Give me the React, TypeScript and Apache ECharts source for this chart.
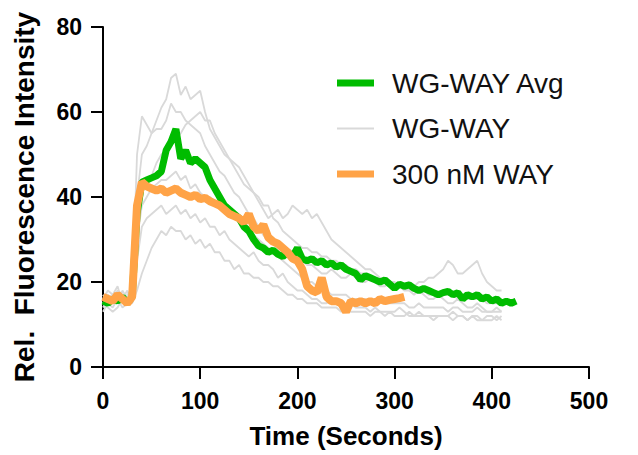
import React, { useEffect, useRef } from "react";
import * as echarts from "echarts";

// Time between samples (seconds)
const SAMPLE_INTERVAL_S = 5;

// Axis ranges / ticks
const X_MIN = 0;
const X_MAX = 500;
const X_STEP = 100;
const Y_MIN = 0;
const Y_MAX = 80;
const Y_STEP = 20;

const SERIES_NAMES = ["WG-WAY Avg", "WG-WAY", "300 nM WAY"];

// WG-WAY Avg (green), sampled every 5 s from 0 s
const avgValues = [
  15.5, 15, 16, 15.5, 16.5, 15, 16.5, 36, 43.5, 44,
  44.5, 45, 46, 51, 53, 56, 49, 51, 48, 49,
  48, 47, 44, 42, 40, 38, 37, 36, 35, 33,
  32, 30, 28.5, 28, 27, 27.5, 26.5, 26, 27, 26,
  28, 25.5, 25, 25.5, 24.5, 25, 24, 24.5, 23.5, 24,
  23, 22.5, 22, 20.5, 21.5, 21, 20.5, 20, 20.5, 19.5,
  18.5, 19.5, 19, 19.3, 18.5, 18, 18.5, 18, 17.5, 17,
  17.5, 17.8, 17, 17.5, 16, 17, 16.5, 17, 16, 16.5,
  15.5, 16, 15, 15.5, 15, 15.5,
];

// 300 nM WAY (orange), sampled every 5 s from 0 s
const wayValues = [
  16.5, 16, 15.5, 17, 16, 15, 16.5, 38, 43.5, 42.5,
  42, 41.5, 42, 41, 41.5, 42, 41, 40.5, 40, 40.5,
  39.5, 39.8, 39, 38.5, 38, 37, 36, 35.5, 35, 34,
  36, 33, 32, 33.5, 30.5, 29.5, 29, 28, 27, 25.5,
  25, 23, 19, 18, 17.5, 21, 16.5, 15.5, 15.5, 15,
  13, 15.5, 15, 15.5, 15, 15.5, 15, 16, 15.5, 15.8,
  16, 16.2, 16.5,
];

// Individual WG-WAY traces (grey), sampled every 5 s from 0 s
const trace1 = [
  16, 18, 17, 19, 15, 17, 18, 40, 50, 52,
  55, 58, 61, 63, 68, 69, 64, 66, 63, 64,
  65, 60, 56, 54, 52, 50, 49, 48, 47, 45,
  43, 41, 39, 37, 35, 36, 37, 35, 36, 38,
  37, 36, 37, 35, 36, 34, 32, 30, 29, 28,
  27, 26, 25, 24, 23, 23, 22, 21, 20, 20,
  19, 19, 18, 18, 17, 18, 17, 16, 16, 17,
  16, 15, 15, 16, 15, 14, 14, 15, 14, 13,
  13, 14, 13,
];
const trace2 = [
  15, 17, 16, 18, 17, 15, 16, 50, 59, 57,
  55, 56, 56, 58, 62, 60, 60, 58, 57, 56,
  55, 52, 50, 48, 46, 45, 43, 41, 40, 38,
  36, 35, 33, 31, 30, 29, 28, 27, 27, 26,
  26, 25, 24, 24, 23, 22, 22, 23, 22, 21,
  21, 22, 21, 20, 20, 21, 20, 19, 19, 20,
  20, 19, 19, 20, 19, 20, 20, 21, 21, 22,
  23, 25, 24, 22, 22, 23, 24, 25, 22, 20,
  19, 18, 18,
];
const trace3 = [
  14, 16, 17, 15, 16, 18, 15, 30, 38, 40,
  42, 43, 44, 44, 45, 46, 44, 45, 42, 43,
  41, 40, 40, 39, 39, 38, 37, 36, 34, 33,
  32, 31, 30, 29, 28, 27, 26, 25, 24, 23,
  22, 21, 20, 20, 19, 18, 18, 17, 17, 17,
  17, 16, 16, 16, 16, 15, 16, 16, 15, 15,
  15, 15, 15, 14, 14, 15, 14, 14, 14, 14,
  14, 13, 14, 14, 13, 13, 13, 14, 13, 13,
  13, 13, 13,
];
const trace4 = [
  13, 15, 14, 16, 14, 15, 16, 25, 33, 35,
  36, 37, 38, 36, 37, 38, 36, 37, 35, 36,
  34, 35, 33, 33, 31, 32, 30, 29, 28, 27,
  26, 27, 25, 24, 24, 23, 21, 22, 20, 19,
  18, 18, 17, 16, 16, 15, 15, 16, 15, 14,
  14, 15, 14, 14, 14, 13, 14, 13, 13, 13,
  13, 14, 13, 12, 12, 13, 12, 12, 12, 12,
  12, 12, 13, 12, 12, 11, 12, 11, 11, 11,
  11, 12, 11,
];
const trace5 = [
  15, 14, 13, 14, 16, 15, 15, 18, 22, 25,
  28, 30, 32, 31, 33, 32, 32, 30, 31, 29,
  30, 28, 29, 27, 27, 25, 25, 23, 24, 22,
  22, 21, 21, 20, 20, 19, 19, 18, 17, 17,
  16, 16, 15, 15, 15, 14, 14, 14, 14, 13,
  14, 13, 13, 13, 13, 12, 13, 13, 12, 13,
  12, 12, 12, 13, 12, 12, 12, 12, 11, 12,
  12, 12, 11, 12, 12, 11, 12, 12, 11, 12,
  12, 11, 12,
];
const trace6 = [
  17, 15, 16, 15, 18, 16, 16, 36, 42, 44,
  45, 48, 50, 51, 52, 54, 55, 57, 58, 59,
  60, 58, 58, 55, 53, 51, 49, 47, 45, 43,
  42, 41, 40, 38, 38, 35, 34, 32, 31, 30,
  29, 28, 28, 27, 27, 26, 26, 25, 25, 24,
  24, 23, 23, 22, 22, 21, 21, 20, 20, 19,
  19, 19, 19, 18, 18, 18, 18, 17, 17, 17,
  17, 17, 17, 16, 16, 16, 16, 16, 16, 15,
  15, 15, 15,
];
const greyTraces = [trace1, trace2, trace3, trace4, trace5, trace6];

const FONT = "'Liberation Sans', Arial, Helvetica, sans-serif";
const GREEN = "#00BC00";
const ORANGE = "#FFA347";
const GREY = "#D9D9D9";

const toPoints = (values: number[]) =>
  values.map((v, i) => [i * SAMPLE_INTERVAL_S, v]);

export default function App() {
  const ref = useRef<HTMLDivElement>(null);

  useEffect(() => {
    if (!ref.current) return;
    const chart = echarts.init(ref.current, undefined, { renderer: "svg" });

    const legendText = {
      fontFamily: FONT,
      fontSize: 28,
      color: "#111",
      lineHeight: 30,
      padding: [0, 0, 0, 13],
    };
    const legendBase = {
      left: 337,
      orient: "vertical",
      itemWidth: 37,
      icon: "rect",
      selectedMode: false,
      padding: 0,
      textStyle: legendText,
    };

    const greySeries = greyTraces.map((t) => ({
      name: SERIES_NAMES[1],
      type: "line",
      data: toPoints(t),
      symbol: "none",
      color: GREY,
      lineStyle: { color: GREY, width: 1.8 },
      itemStyle: { color: GREY },
      z: 1,
      silent: true,
    }));

    const option: any = {
      animation: false,
      grid: { left: 103, right: 49, top: 27, bottom: 88 },
      legend: [
        { ...legendBase, top: 83 - 15, itemHeight: 7, data: [SERIES_NAMES[0]] },
        { ...legendBase, top: 128.5 - 15, itemHeight: 2, data: [SERIES_NAMES[1]] },
        { ...legendBase, top: 174 - 15, itemHeight: 7, data: [SERIES_NAMES[2]] },
      ],
      xAxis: {
        type: "value",
        min: X_MIN,
        max: X_MAX,
        interval: X_STEP,
        name: "Time (Seconds)",
        nameLocation: "middle",
        nameGap: 56,
        nameTextStyle: {
          fontFamily: FONT,
          fontSize: 26,
          fontWeight: "bold",
          color: "#000",
        },
        axisLine: { show: true, lineStyle: { color: "#000", width: 2 } },
        axisTick: { show: true, length: 12, lineStyle: { color: "#000", width: 2 } },
        axisLabel: {
          fontFamily: FONT,
          fontSize: 23,
          fontWeight: "bold",
          color: "#000",
          margin: 22,
        },
        splitLine: { show: false },
      },
      yAxis: {
        type: "value",
        min: Y_MIN,
        max: Y_MAX,
        interval: Y_STEP,
        name: "Rel.  Fluorescence Intensity",
        nameLocation: "middle",
        nameGap: 65,
        nameTextStyle: {
          fontFamily: FONT,
          fontSize: 28,
          fontWeight: "bold",
          color: "#000",
        },
        axisLine: { show: true, lineStyle: { color: "#000", width: 2 } },
        axisTick: { show: true, length: 12, lineStyle: { color: "#000", width: 2 } },
        axisLabel: {
          fontFamily: FONT,
          fontSize: 23,
          fontWeight: "bold",
          color: "#000",
          margin: 21,
        },
        splitLine: { show: false },
      },
      series: [
        ...greySeries,
        {
          name: SERIES_NAMES[0],
          type: "line",
          data: toPoints(avgValues),
          symbol: "none",
          color: GREEN,
          lineStyle: { color: GREEN, width: 7 },
          itemStyle: { color: GREEN },
          z: 3,
          silent: true,
        },
        {
          name: SERIES_NAMES[2],
          type: "line",
          data: toPoints(wayValues),
          symbol: "none",
          color: ORANGE,
          lineStyle: { color: ORANGE, width: 8 },
          itemStyle: { color: ORANGE },
          z: 4,
          silent: true,
        },
      ],
    };

    chart.setOption(option);
    return () => chart.dispose();
  }, []);

  return (
    <div
      ref={ref}
      style={{ position: "fixed", left: 0, top: 0, width: 638, height: 455, background: "#fff" }}
    />
  );
}
